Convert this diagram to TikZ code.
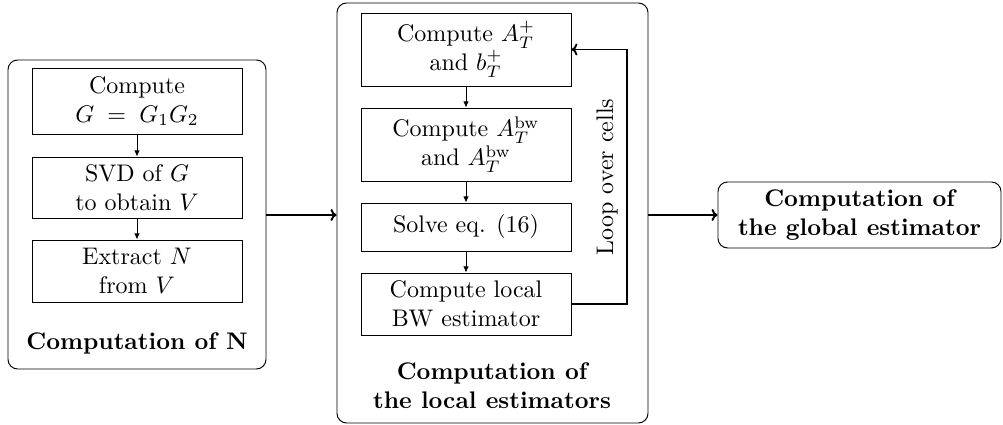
\documentclass[tikz,border=0pt]{standalone}
\usetikzlibrary{arrows.meta}
\begin{document}
\def\u{0.41667pt}
\begin{tikzpicture}[x=0.41667pt,y=-0.41667pt,
  box/.style={draw,rectangle,minimum width=210*\u,align=center,inner sep=0pt,line width=0.4pt},
  cont/.style={draw,rectangle,rounded corners=4pt,inner sep=0pt,line width=0.4pt},
  lbl/.style={align=center,font=\bfseries,inner sep=0pt},
  small/.style={-{Latex[length=2.6pt,width=2.4pt]},line width=0.4pt},
  big/.style={-{To[length=2.5pt,width=5pt]},line width=0.8pt}]
\useasboundingbox (0,0) rectangle (1003,425);
% left container
\node[cont,minimum width=258*\u,minimum height=309*\u] (cN) at (137,214.5) {};
\node[box,minimum height=66*\u] (n1) at (137,101) {Compute\\ $G \;=\; G_1G_2$};
\node[box,minimum height=61*\u] (n2) at (137,187.5) {SVD of $G$\\ to obtain $V$};
\node[box,minimum height=62*\u] (n3) at (137,271) {Extract $N$\\ from $V$};
\node[lbl] (lN) at (137,343) {Computation of N};
\draw[small] (n1) -- (n2);
\draw[small] (n2) -- (n3);
% middle container
\node[cont,minimum width=311*\u,minimum height=420*\u] (cL) at (492.5,213) {};
\node[box,minimum height=73*\u] (m1) at (466,49.5) {Compute $A_T^+$\\ and $b_T^+$};
\node[box,minimum height=73*\u] (m2) at (466,144.5) {Compute $A_T^{\mathrm{bw}}$\\ and $A_T^{\mathrm{bw}}$};
\node[box,minimum height=48*\u] (m3) at (466,227) {Solve eq. (16)};
\node[box,minimum height=62*\u] (m4) at (466,304) {Compute local\\ BW estimator};
\node[lbl] (lL) at (492,386) {Computation of\\ the local estimators};
\draw[small] (m1) -- (m2);
\draw[small] (m2) -- (m3);
\draw[small] (m3) -- (m4);
\coordinate (lc) at (627,304);
\draw[big] (m4.east) -- (lc) |- (m1.east);
\node[rotate=90,inner sep=0pt] (loop) at (607,177) {Loop over cells};
% global
\node[cont,lbl,minimum width=283*\u,minimum height=66*\u] (g) at (859.5,215) {Computation of\\ the global estimator};
\draw[big] (cN.east |- g.west) -- (cL.west |- g.west);
\draw[big] (cL.east |- g.west) -- (g.west);
\end{tikzpicture}
\end{document}
